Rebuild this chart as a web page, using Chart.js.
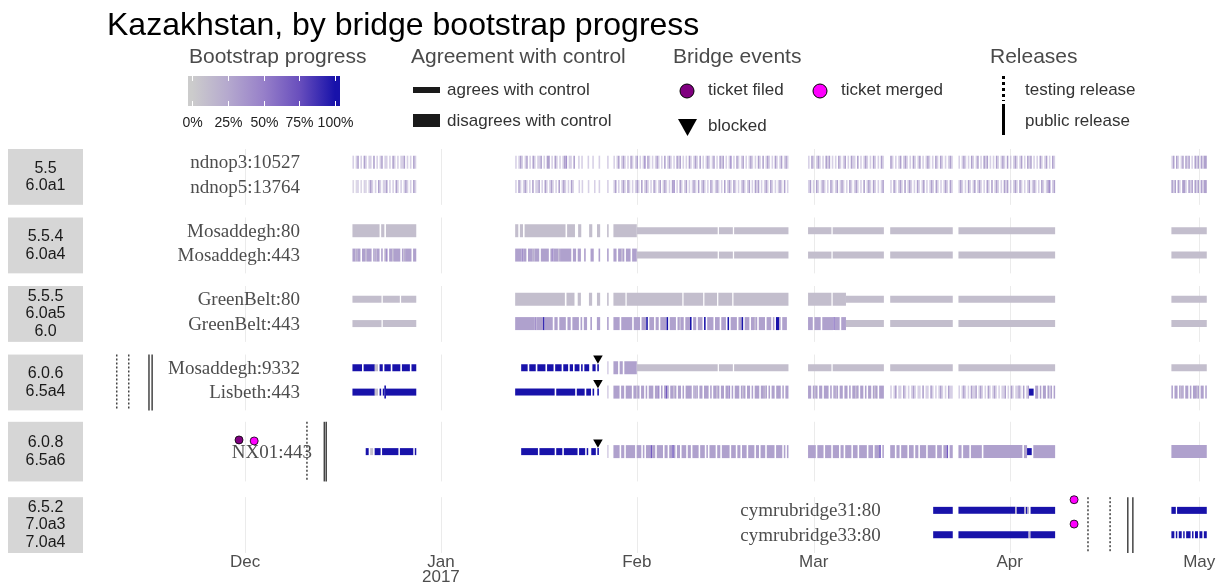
<!DOCTYPE html>
<html>
<head>
<meta charset="utf-8">
<title>Kazakhstan, by bridge bootstrap progress</title>
<script src="https://cdn.jsdelivr.net/npm/chart.js@4.4.1/dist/chart.umd.min.js"></script>
<style>
  html, body { margin: 0; padding: 0; background: #fff; }
  #wrap { width: 1221px; height: 586px; }
</style>
</head>
<body>
<div id="wrap"><canvas id="canvas" width="1221" height="586"></canvas></div>
<script>
// x values are days counted from 1 Dec 2016
const monthTickDays = [0, 31, 62, 90, 121, 151];
const monthTickLabels = ['Dec', ['Jan', '2017'], 'Feb', 'Mar', 'Apr', 'May'];

const facetVersions = [
  ['5.5', '6.0a1'],
  ['5.5.4', '6.0a4'],
  ['5.5.5', '6.0a5', '6.0'],
  ['6.0.6', '6.5a4'],
  ['6.0.8', '6.5a6'],
  ['6.5.2', '7.0a3', '7.0a4']
];

const bridges = ['ndnop3:10527', 'ndnop5:13764', 'Mosaddegh:80', 'Mosaddegh:443', 'GreenBelt:80', 'GreenBelt:443',
  'Mosaddegh:9332', 'Lisbeth:443', 'NX01:443', 'cymrubridge31:80', 'cymrubridge33:80'];
const bridgeFacet = [0, 0, 1, 1, 2, 2, 3, 3, 4, 5, 5];
const bridgeLabelDay = [8.7, 8.7, 8.7, 8.7, 8.7, 8.7, 8.7, 8.7, 10.6, 100.6, 100.6];

// measurement runs: [first day, last day, codes], codes split the run in equal slices
// '.' = no measurement
// A..K = 0..100% progress, disagrees with control
// a..k = 0..100% progress, agrees with control
// 0..9 = 0..90% progress, disagrees, slice only partly covered by measurements
const ndnop3Runs = [
  [17.0, 27.1, '3.3D.3.D3.33.D.3.3D.33.3.D3.3.33D.3.3.D3'],
  [42.75, 56.2, '3.3D3.3D.3.D3.33D.3.DD.3.D3.3.3DE.33.D..3.3...3..3...3'],
  [57.3, 57.55, '3'],
  [58.3, 86.0, '3.3D.3D3.3.D3.3D.3.3E.D3.3.3D3.3.D.3D3.3.D3D.3.3.D3.3D3.D.3.3D3.3D.3.D3D.3.3E.3.D3.3D.3.3D3.3.D3.D.3D3.3.D3.3D.3D3'],
  [89.1, 101.1, '3.D3.3D3.3.D3D.3.3.D3.3D.3.D33.D.3.3D3.3.D3.3.D3'],
  [102.1, 112.0, 'D3.3.3D.3D3.3.D3.3D.3.3D3.3.D3.D3.3.3D3'],
  [112.9, 128.2, '3.3D3.3.D3.3D.3.D3D.3.3.D3.3D3.D.3.3D3.3D.3.D3D.3.3.D3.3D.3.D3'],
  [146.6, 152.2, '3D.D3.3D.D3D.3.D3D.D3DD']
];
const ndnop5Runs = [
  [17.0, 27.1, '2.23.2.32.3D3.3.D3.33D.3.3.D3.3.3D3.3.D3'],
  [42.75, 56.2, '3.D3.3D3.3.D.33D.3.D3.3D3.3.D.3D3.3.D3...3.3...3...3..3'],
  [57.3, 57.55, '3'],
  [58.3, 86.0, '3D.3.3D3.D3.3.3D3.D.3D3.3.D3.3D.3D3.3.DE.3.D3.3D.3.3D3.D.3D3.3.D3.3D3.3.D.3D3.D3.3.3D3.3D.3.D3D.3.3D3.D3.3.3D3.D.3'],
  [89.1, 101.1, '3D.3.D3.3D3.3.D3.3D.3D3.3.D3.3D3.3.D.3D3.D3.3.3D'],
  [102.1, 112.0, '3.D3.3D3.D.3D3.3.D3.3D.3.3D3.D3.3.3D3.D3'],
  [112.9, 128.2, '3D3.3.D3.3D.3D3.3.D3.D.3D3.3.D3D.3.3D3.D3.3.3D.3D3.3.D3.3DE.3D'],
  [146.6, 152.2, 'D3D.D3.DD3.D3D.D3D.D3DD']
];
const mosaddegh80Runs = [
  [17.0, 27.1, 'BBBBBBBBBBBBBBBBB.BB.BBBBBBBBBBBBBBBBBBB'],
  [42.75, 56.2, 'BB.BB.BBBBBBBBBBBBBBBBBBBBBBBBBB.BBBBB..BB.....BB...BB'],
  [57.3, 57.55, 'B'],
  [58.3, 62.0, 'B'],
  [62.0, 74.8, 'b'], [75.0, 77.2, 'b'], [77.4, 86.0, 'b'],
  [89.1, 92.8, 'b'], [93.0, 101.1, 'b'],
  [102.1, 112.0, 'b'],
  [112.9, 128.2, 'b'],
  [146.6, 152.2, 'b']
];
const mosaddegh443Runs = [
  [17.0, 27.1, 'DDCDD.DDCDDD.DCDD.D.CE.DDCDDDD.DCDDDD.DD'],
  [42.75, 56.2, 'DDDDEDD.DDDCDDD.DDDDD.DEDDDCDDDDDDD.DD.DD..D...DD...D'],
  [57.3, 57.55, 'D'],
  [58.3, 62.0, 'DD.DDCD.DDD.DDD'],
  [62.0, 74.8, 'b'], [75.0, 77.2, 'b'], [77.4, 86.0, 'b'],
  [89.1, 92.8, 'b'], [93.0, 101.1, 'b'],
  [102.1, 112.0, 'b'],
  [112.9, 128.2, 'b'],
  [146.6, 152.2, 'b']
];
const greenBelt80Runs = [
  [17.0, 21.6, 'b'], [21.8, 24.5, 'b'], [24.7, 27.1, 'b'],
  [42.75, 56.2, 'BBBBBBBBBBBBBBBBBBBBBBBBBBBBBBB.BBBBB..BB.....BB...BB'],
  [57.3, 57.55, 'B'],
  [58.3, 60.2, 'B'], [60.4, 69.2, 'B'], [69.4, 72.5, 'B'], [72.7, 74.7, 'B'], [74.9, 77.1, 'B'], [77.3, 86.0, 'B'],
  [89.1, 92.8, 'B'], [93.0, 95.1, 'B'],
  [95.1, 101.1, 'b'],
  [102.1, 112.0, 'b'],
  [112.9, 128.2, 'b'],
  [146.6, 152.2, 'b']
];
const greenBelt443Runs = [
  [17.0, 21.6, 'b'], [21.8, 27.1, 'b'],
  [42.75, 56.2, 'DDDDDDDDDDDDEDDDDJDDDDD.DD.DDDD.DD.DDDD.D.DD..D...DD'],
  [57.3, 57.55, 'D'],
  [58.3, 86.0, 'DDDD.DDDDDDD.DDDD.DDDK.DDD.DD.DDDDK.DDDD.DCDD.DDDK.DD.DDD.K.DDDD.DDD.DDD.K.DDDD.DDK.DDD.DDCD.DDDD.DDD.D.KKD.DDD.'],
  [89.1, 95.1, 'DDD.DDDD.DDDDDDDFDDD.DDD'],
  [95.1, 101.1, 'b'],
  [102.1, 112.0, 'b'],
  [112.9, 128.2, 'b'],
  [146.6, 152.2, 'b']
];
const mosaddegh9332Runs = [
  [17.0, 27.1, 'kkkkkk.kkkkkkkbb.kk.kkkk.kkkkk.kkkkk.kkk'],
  [43.7, 56.0, 'kkkk.kkkk.kkkkk.kkkk.kkkk.kkk.kk.kkk.k.kkk..kk.k'],
  [57.3, 57.55, '3'],
  [58.3, 62.0, 'DDD.DD.DDDDDDDD'],
  [62.0, 74.8, 'b'], [75.0, 77.2, 'b'], [77.4, 86.0, 'b'],
  [89.1, 92.8, 'b'], [93.0, 101.1, 'b'],
  [102.1, 112.0, 'b'],
  [112.9, 128.2, 'b'],
  [146.6, 152.2, 'b']
];
const lisbeth443Runs = [
  [17.0, 27.1, 'kkkkkkkkkkkkkkbb.k.kKkkkkkkkkkkkkkkkkkkk'],
  [42.75, 56.0, 'kkkkkkkkkkkkkkkkkkkkkkkkk.kkkkkkkkkkkk.kkkkk.kkk.k..k'],
  [57.3, 57.55, '3'],
  [58.3, 86.0, 'DDDD.DD.DDDD.DDCD.DD.D.DDD.DDE.D.DHD.DDCD.DD.D.DDDD.DCD.DD.DDD.D.DDCD.DD.DDE.D.DDD.DCD.DD.D.DDD.DDCD.D.DD.DDD.D.DD'],
  [89.1, 101.1, 'DD.DCD.DD.DDD.D.DCD.DD.DD.D.DDCD.DD.D.DD.DCD.DDD'],
  [102.1, 112.0, '3.3D.33.D3.3.3D3.33.D.33.D3.3.3D3.3.D33'],
  [112.9, 128.2, '3.3D3.3.D33D.3D3.3.D3.3D3.3.33D.3.D3.33D3.D.3Dkkk.DD.D.DD.D3D.D'],
  [146.6, 152.2, 'D.DD.DCD.DD.D.DDCD.DD.D']
];
const nx01Runs = [
  [19.1, 27.1, 'kk.bb.kkkk.kkkkkkkkkkk.kkkkkkkkk.k'],
  [43.7, 56.0, 'kkkkkkkkkkk.kkkkkkkkkk.kkkk.kkkkkkkkk.kkkk.k..kkk.k'],
  [57.3, 57.55, '3'],
  [58.3, 86.0, 'DDDD.DD.DDDDDD.DDD.D.DDDHDD.DDDD.DD.DDHD.DD.DDD.DD.DDDD.DDD.D.DDDD.DD.DDDDD.DDD.DD.DDD.DDDD.DD.DDD.DDDDD.DDDD.D.D'],
  [89.1, 101.1, 'DDDDD.DDDD.DDDD.DDDD.DD.DDDD.DDD.DDDDD.DDD.DDDH.D'],
  [102.1, 112.0, 'DDD.DD.DDDD.DDD.DD.DDDD.DDDDD.DDD.DDH.DD'],
  [112.9, 128.2, 'DD.DDDD.DDDDDDD.DDDDDDDDDDDDDDDDDDDDDDDDD.DDkkk.DDDDDDDDDDDDDD'],
  [146.6, 152.2, 'D']
];
const cymru31Runs = [
  [108.9, 112.0, 'k'],
  [112.9, 128.2, 'kkkkkkkkkkkkkkkkkkkkkkkkkkkkkkkkkkkkkckkkkkckc.kkkkkkkkkkkkkkkk'],
  [146.6, 147.3, 'k'], [147.5, 152.2, 'k']
];
const cymru33Runs = [
  [108.9, 112.0, 'k'],
  [112.9, 124.0, 'k'], [124.0, 124.3, 'c'], [124.3, 128.2, 'k'],
  [146.6, 152.2, 'kk.k.kk.k.kkk.k.kk.kk.kk']
];
const bridgeRuns = [ndnop3Runs, ndnop5Runs, mosaddegh80Runs, mosaddegh443Runs, greenBelt80Runs, greenBelt443Runs,
  mosaddegh9332Runs, lisbeth443Runs, nx01Runs, cymru31Runs, cymru33Runs];

// [facet, day]
const testingReleases = [[3, -20.3], [3, -18.4], [4, 9.8], [5, 133.4], [5, 136.9]];
const publicReleases = [[3, -15.2], [3, -14.7], [4, 12.55], [4, 12.85], [5, 139.7], [5, 140.5]];
// [bridge, day]
const ticketFiled = [[8, -0.95]];
const ticketMerged = [[8, 1.45], [9, 131.2], [10, 131.2]];
const blockedEvents = [[6, 55.85], [7, 55.85], [8, 55.85]];

const progressTicks = [0, 25, 50, 75, 100];

// ---- layout helpers ----
const facetTop = [0, 2.7, 5.4, 8.1, 10.75, 13.72];
const facetSize = [2.2, 2.2, 2.2, 2.2, 2.35, 2.2];
const yMax = facetTop[5] + facetSize[5];
const SANS = '"Liberation Sans", Arial, sans-serif';
const SERIF = '"Liberation Serif", "Times New Roman", serif';

function bridgeY(i) {
  const f = bridgeFacet[i];
  const members = [];
  bridgeFacet.forEach((g, j) => { if (g === f) members.push(j); });
  if (members.length === 1) return facetTop[f] + facetSize[f] / 2;
  return facetTop[f] + (members.indexOf(i) === 0 ? 0.52 : 1.48);
}

const progressStops = [[0, [204, 204, 204]], [0.25, [181, 169, 206]], [0.5, [151, 128, 201]], [0.75, [105, 79, 189]], [1, [24, 18, 170]]];
function progressRgb(p) {
  for (let s = 1; s < progressStops.length; s++) {
    const [p1, c1] = progressStops[s];
    const [p0, c0] = progressStops[s - 1];
    if (p <= p1) {
      const t = (p - p0) / (p1 - p0);
      return c0.map((v, k) => Math.round(v + (c1[k] - v) * t));
    }
  }
  return progressStops[progressStops.length - 1][1];
}
function barColor(b) {
  return 'rgba(' + progressRgb(b.p).join(',') + ',' + (b.partial ? 0.5 : 1) + ')';
}

const thickBars = [], thinBars = [];
bridgeRuns.forEach((runs, i) => {
  const y = bridgeY(i);
  runs.forEach(([start, end, codes]) => {
    const w = (end - start) / codes.length;
    let k = 0;
    while (k < codes.length) {
      let j = k;
      while (j < codes.length && codes[j] === codes[k]) j++;
      const c = codes[k];
      if (c !== '.') {
        const bar = { x: [start + k * w, start + j * w], y: y };
        if (c >= '0' && c <= '9') {
          bar.p = +c / 10; bar.partial = true; thickBars.push(bar);
        } else {
          bar.p = (c.toUpperCase().charCodeAt(0) - 65) / 10;
          if (c === c.toUpperCase()) thickBars.push(bar); else thinBars.push(bar);
        }
      }
      k = j;
    }
  });
});

function eventPoints(list, dy) {
  return list.map(([b, d]) => ({ x: d, y: bridgeY(b) + dy }));
}

const panelPlugin = {
  id: 'panels',
  beforeDatasetsDraw(chart) {
    const ctx = chart.ctx, xs = chart.scales.x, ys = chart.scales.y;
    ctx.save();
    // grid lines, one set per panel
    ctx.strokeStyle = '#ebebeb';
    ctx.lineWidth = 1;
    facetVersions.forEach((v, f) => {
      const top = ys.getPixelForValue(facetTop[f]), bottom = ys.getPixelForValue(facetTop[f] + facetSize[f]);
      monthTickDays.forEach(d => {
        const x = Math.round(xs.getPixelForValue(d)) + 0.5;
        ctx.beginPath(); ctx.moveTo(x, top); ctx.lineTo(x, bottom); ctx.stroke();
      });
    });
    // bridge labels
    ctx.font = '19px ' + SERIF;
    ctx.fillStyle = '#4d4d4d';
    ctx.textAlign = 'right';
    ctx.textBaseline = 'middle';
    bridges.forEach((b, i) => {
      ctx.fillText(b, xs.getPixelForValue(bridgeLabelDay[i]), ys.getPixelForValue(bridgeY(i)) + 1);
    });
    ctx.restore();
  },
  afterDatasetsDraw(chart) {
    const ctx = chart.ctx, xs = chart.scales.x, ys = chart.scales.y;
    ctx.save();
    ctx.strokeStyle = '#444';
    ctx.lineWidth = 1.5;
    const drawRel = (list, dash) => {
      ctx.setLineDash(dash);
      list.forEach(([f, d]) => {
        const x = xs.getPixelForValue(d);
        ctx.beginPath();
        ctx.moveTo(x, ys.getPixelForValue(facetTop[f]));
        ctx.lineTo(x, ys.getPixelForValue(facetTop[f] + facetSize[f]));
        ctx.stroke();
      });
    };
    drawRel(testingReleases, [2, 2]);
    drawRel(publicReleases, []);
    ctx.restore();
  },
  afterDraw(chart) {
    const ctx = chart.ctx, ys = chart.scales.y;
    ctx.save();
    // facet strips
    facetVersions.forEach((v, f) => {
      const top = ys.getPixelForValue(facetTop[f]), bottom = ys.getPixelForValue(facetTop[f] + facetSize[f]);
      ctx.fillStyle = '#d6d6d6';
      ctx.fillRect(8, top, 75, bottom - top);
      ctx.fillStyle = '#1a1a1a';
      ctx.font = '16px ' + SANS;
      ctx.textAlign = 'center';
      ctx.textBaseline = 'middle';
      const mid = (top + bottom) / 2, lh = 17.5;
      v.forEach((t, k) => ctx.fillText(t, 45.5, mid + (k - (v.length - 1) / 2) * lh));
    });

    // title
    ctx.fillStyle = '#000';
    ctx.font = '32px ' + SANS;
    ctx.textAlign = 'left';
    ctx.textBaseline = 'alphabetic';
    ctx.fillText('Kazakhstan, by bridge bootstrap progress', 107, 35);

    // legend titles
    ctx.fillStyle = '#4a4a4a';
    ctx.font = '21px ' + SANS;
    ctx.fillText('Bootstrap progress', 189, 63);
    ctx.fillText('Agreement with control', 411, 63);
    ctx.fillText('Bridge events', 673, 63);
    ctx.fillText('Releases', 990, 63);

    // colour bar
    const g0 = 192, g1 = 335;
    const grad = ctx.createLinearGradient(g0, 0, g1, 0);
    progressStops.forEach(([p, c]) => grad.addColorStop(p, 'rgb(' + c.join(',') + ')'));
    ctx.fillStyle = grad;
    ctx.fillRect(188, 76, 152, 30);
    ctx.strokeStyle = '#fff';
    ctx.lineWidth = 1;
    ctx.font = '14px ' + SANS;
    ctx.textAlign = 'center';
    ctx.textBaseline = 'middle';
    progressTicks.forEach(t => {
      const x = Math.round(g0 + (g1 - g0) * t / 100) + 0.5;
      ctx.beginPath(); ctx.moveTo(x, 76); ctx.lineTo(x, 81); ctx.moveTo(x, 101); ctx.lineTo(x, 106); ctx.stroke();
      ctx.fillStyle = '#222';
      ctx.fillText(t + '%', x, 123);
    });

    // agreement keys
    ctx.fillStyle = '#1a1a1a';
    ctx.fillRect(413, 87, 27, 6);
    ctx.fillRect(413, 114, 27, 13);
    ctx.fillStyle = '#333';
    ctx.font = '17px ' + SANS;
    ctx.textAlign = 'left';
    ctx.fillText('agrees with control', 447, 90);
    ctx.fillText('disagrees with control', 447, 121);

    // bridge event keys
    const circle = (x, y, r, fill) => {
      ctx.beginPath(); ctx.arc(x, y, r, 0, Math.PI * 2);
      ctx.fillStyle = fill; ctx.fill();
      ctx.strokeStyle = '#000'; ctx.lineWidth = 1; ctx.stroke();
    };
    circle(687, 91, 7, '#800080');
    circle(820, 91, 7, '#ff00ff');
    ctx.fillStyle = '#000';
    ctx.beginPath(); ctx.moveTo(678, 119); ctx.lineTo(697, 119); ctx.lineTo(687.5, 136); ctx.closePath(); ctx.fill();
    ctx.fillStyle = '#333';
    ctx.fillText('ticket filed', 708, 90);
    ctx.fillText('ticket merged', 841, 90);
    ctx.fillText('blocked', 708, 126);

    // release keys
    ctx.strokeStyle = '#000';
    ctx.lineWidth = 3;
    ctx.setLineDash([3, 3]);
    ctx.beginPath(); ctx.moveTo(1003.5, 76); ctx.lineTo(1003.5, 101); ctx.stroke();
    ctx.setLineDash([]);
    ctx.beginPath(); ctx.moveTo(1003.5, 104); ctx.lineTo(1003.5, 135); ctx.stroke();
    ctx.fillText('testing release', 1025, 90);
    ctx.fillText('public release', 1025, 121);
    ctx.restore();
  }
};

const config = {
  type: 'bar',
  data: {
    datasets: [
      { type: 'scatter', label: 'blocked', data: eventPoints(blockedEvents, -0.37), pointStyle: 'triangle', rotation: 180,
        pointRadius: 5.5, backgroundColor: '#000', borderWidth: 0 },
      { type: 'scatter', label: 'ticket filed', data: eventPoints(ticketFiled, -0.46), pointStyle: 'circle',
        pointRadius: 4, backgroundColor: '#800080', borderColor: '#000', borderWidth: 0.8 },
      { type: 'scatter', label: 'ticket merged', data: eventPoints(ticketMerged, -0.42), pointStyle: 'circle',
        pointRadius: 4, backgroundColor: '#ff00ff', borderColor: '#000', borderWidth: 0.8 },
      { label: 'agrees with control', data: thinBars, backgroundColor: thinBars.map(barColor),
        grouped: false, maxBarThickness: 7, barThickness: 7, inflateAmount: 0, borderWidth: 0 },
      { label: 'disagrees with control', data: thickBars, backgroundColor: thickBars.map(barColor),
        grouped: false, maxBarThickness: 13, barThickness: 13, inflateAmount: 0, borderWidth: 0 }
    ]
  },
  options: {
    indexAxis: 'y',
    responsive: false,
    animation: false,
    events: [],
    layout: { padding: { left: 106, right: 6, top: 149, bottom: 0 } },
    plugins: { legend: { display: false }, tooltip: { enabled: false }, title: { display: false } },
    scales: {
      x: {
        type: 'linear', min: -22, max: 153.5, offset: false,
        grid: { display: false, drawTicks: false },
        border: { display: false },
        afterBuildTicks: axis => { axis.ticks = monthTickDays.map(v => ({ value: v })); },
        ticks: {
          autoSkip: false, maxRotation: 0, minRotation: 0, padding: 1.5,
          color: '#4d4d4d', font: { size: 17, family: SANS, lineHeight: '15px' },
          callback: value => monthTickLabels[monthTickDays.indexOf(value)]
        }
      },
      y: { type: 'linear', min: 0, max: yMax, reverse: true, offset: false, display: false }
    }
  },
  plugins: [panelPlugin]
};

const canvas = document.getElementById('canvas');
const chart = new Chart(canvas, config);
</script>
</body>
</html>
